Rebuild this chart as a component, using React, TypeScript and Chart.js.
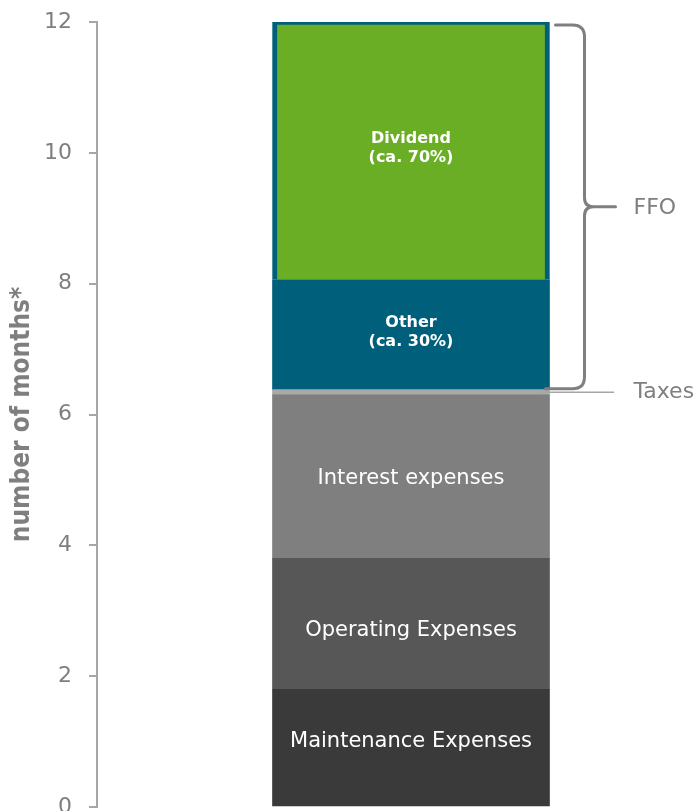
import React, { useEffect, useRef } from "react";
import { Chart, registerables } from "chart.js";

Chart.register(...registerables);

const categories = ["Cash flow"];
const segmentNames = [
  "Maintenance Expenses",
  "Operating Expenses",
  "Interest expenses",
  "Taxes",
  "Other",
  "Dividend",
];
const segmentValues = [1.8, 2.0, 2.5, 0.08, 1.68, 3.94];
const segmentLabels = [
  "Maintenance Expenses",
  "Operating Expenses",
  "Interest expenses",
  "",
  "Other\n(ca. 30%)",
  "Dividend\n(ca. 70%)",
];
const segmentBold = [false, false, false, false, true, true];
const segmentColors = ["#3a3a3a", "#575757", "#7f7f7f", "#a9a9a9", "#005f7a", "#6aae25"];
const yTicks = [0, 2, 4, 6, 8, 10, 12];
const yTitle = "number of months*";
const bracketLabel = "FFO";
const bracketFrom = 4; // index of first segment in bracket
const bracketTo = 5;
const taxesIndex = 3;
const taxesLabel = "Taxes";

// small vertical nudges (px) for in-bar labels, styling only
const labelNudge = [-6, 7, 2, 0, -2, -3];

const FONT = "'DejaVu Sans', Verdana, sans-serif";

const annotationPlugin = {
  id: "annotations",
  afterDatasetsDraw(chart: any) {
    const ctx = chart.ctx;
    const y = chart.scales.y;
    segmentLabels.forEach((lab, i) => {
      if (!lab) return;
      const el = chart.getDatasetMeta(i).data[0];
      if (!el) return;
      const cy = (el.y + el.base) / 2 + labelNudge[i];
      const lines = lab.split("\n");
      ctx.save();
      ctx.fillStyle = "#ffffff";
      ctx.textAlign = "center";
      ctx.textBaseline = "middle";
      const size = segmentBold[i] ? 16 : 21;
      ctx.font = `${segmentBold[i] ? "bold " : ""}${size}px ${FONT}`;
      const lh = segmentBold[i] ? 19 : 24;
      lines.forEach((ln, k) => {
        ctx.fillText(ln, el.x, cy + (k - (lines.length - 1) / 2) * lh);
      });
      ctx.restore();
    });

    const barEl = chart.getDatasetMeta(bracketTo).data[0];
    const right = barEl.x + barEl.width / 2;
    let lo = 0;
    for (let i = 0; i < bracketFrom; i++) lo += segmentValues[i];
    let hi = lo;
    for (let i = bracketFrom; i <= bracketTo; i++) hi += segmentValues[i];
    const yTop = y.getPixelForValue(hi) + 3;
    const yBot = y.getPixelForValue(lo) - 1;
    const yMid = (yTop + yBot) / 2;
    const xv = right + 35;
    const r = 12;
    ctx.save();
    ctx.strokeStyle = "#7f7f7f";
    ctx.lineWidth = 3;
    ctx.lineCap = "round";
    ctx.lineJoin = "round";
    ctx.beginPath();
    ctx.moveTo(right + 6, yTop);
    ctx.lineTo(xv - r, yTop);
    ctx.quadraticCurveTo(xv, yTop, xv, yTop + r);
    ctx.lineTo(xv, yMid - 9);
    ctx.quadraticCurveTo(xv, yMid, xv + 9, yMid);
    ctx.lineTo(xv + 31, yMid);
    ctx.moveTo(xv + 9, yMid);
    ctx.quadraticCurveTo(xv, yMid, xv, yMid + 9);
    ctx.lineTo(xv, yBot - r);
    ctx.quadraticCurveTo(xv, yBot, xv - r, yBot);
    ctx.lineTo(right - 4, yBot);
    ctx.stroke();
    ctx.fillStyle = "#7f7f7f";
    ctx.font = `22px ${FONT}`;
    ctx.textAlign = "left";
    ctx.textBaseline = "middle";
    ctx.fillText(bracketLabel, xv + 49, yMid + 1);

    const tEl = chart.getDatasetMeta(taxesIndex).data[0];
    const ty = (tEl.y + tEl.base) / 2;
    ctx.strokeStyle = "#a6a6a6";
    ctx.lineWidth = 1.5;
    ctx.beginPath();
    ctx.moveTo(right - 7, ty);
    ctx.lineTo(right + 64, ty);
    ctx.stroke();
    ctx.fillText(taxesLabel, xv + 49, ty);
    ctx.restore();
  },
};

export default function App() {
  const ref = useRef<HTMLCanvasElement>(null);
  useEffect(() => {
    document.body.style.margin = "0";
    document.body.style.overflow = "hidden";
    const canvas = ref.current!;
    const chart = new Chart(canvas, {
      type: "bar",
      data: {
        labels: categories,
        datasets: segmentNames.map((name, i) => ({
          label: name,
          data: [segmentValues[i]],
          backgroundColor: segmentColors[i],
          borderColor: "#005f7a",
          borderWidth: i === 5 ? { top: 3, left: 5, right: 5, bottom: 0 } : 0,
          borderSkipped: false,
          barThickness: 277,
        })),
      },
      options: {
        responsive: false,
        maintainAspectRatio: false,
        animation: false,
        layout: { padding: { top: 22, bottom: 4, right: 15, left: 0 } },
        plugins: { legend: { display: false }, tooltip: { enabled: false } },
        scales: {
          x: { stacked: true, display: false },
          y: {
            stacked: true,
            min: 0,
            max: 12,
            afterFit: (s: any) => {
              s.width = 97;
              s.paddingTop = 0;
              s.paddingBottom = 0;
            },
            afterBuildTicks: (s: any) => {
              s.ticks = yTicks.map((v) => ({ value: v }));
            },
            ticks: {
              color: "#7f7f7f",
              font: { family: FONT, size: 22 },
              padding: 17,
            },
            grid: {
              drawOnChartArea: false,
              drawTicks: true,
              tickLength: 8,
              color: "#a6a6a6",
              lineWidth: 2,
            },
            border: { display: true, color: "#a6a6a6", width: 2 },
            title: {
              display: true,
              text: yTitle,
              color: "#7f7f7f",
              font: { family: "'DejaVu Sans Condensed', 'DejaVu Sans', sans-serif", size: 26, weight: "bold" },
              padding: { top: 7, bottom: 0 },
            },
          },
        },
      },
      plugins: [annotationPlugin],
    });
    return () => chart.destroy();
  }, []);
  return (
    <div style={{ position: "fixed", left: 0, top: 0, width: 699, height: 811, overflow: "hidden", background: "#fff" }}>
      <canvas ref={ref} width={740} height={811} style={{ width: 740, height: 811, display: "block" }} />
    </div>
  );
}
